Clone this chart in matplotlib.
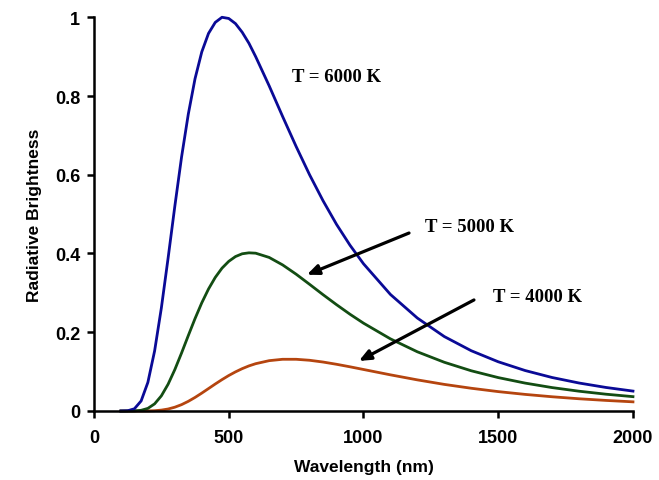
import matplotlib
matplotlib.use("Agg")
import matplotlib.pyplot as plt

# wavelength grid (nm) shared by all three curves
wavelength = [100, 125, 150, 175, 200, 225, 250, 275, 300, 325, 350, 375, 400,
              425, 450, 475, 500, 525, 550, 575, 600, 650, 700, 750, 800, 850,
              900, 950, 1000, 1100, 1200, 1300, 1400, 1500, 1600, 1700, 1800,
              1900, 2000]

# radiative brightness (6000 K peak = 1)
t6000 = [0.0, 0.0006, 0.0056, 0.0255, 0.0726, 0.1525, 0.2615, 0.388, 0.520,
         0.645, 0.754, 0.844, 0.912, 0.959, 0.987, 1.000, 0.997, 0.984, 0.962,
         0.934, 0.900, 0.826, 0.748, 0.672, 0.600, 0.534, 0.474, 0.421, 0.374,
         0.296, 0.236, 0.189, 0.153, 0.125, 0.1027, 0.085, 0.071, 0.0597,
         0.0505]
t5000 = [0.0, 0.0, 0.0002, 0.0017, 0.0066, 0.0181, 0.0384, 0.0679, 0.1051,
         0.1473, 0.1915, 0.2347, 0.2747, 0.3098, 0.3392, 0.3627, 0.380, 0.3922,
         0.3993, 0.4017, 0.4008, 0.390, 0.371, 0.3475, 0.3217, 0.2954, 0.270,
         0.2457, 0.2231, 0.1832, 0.1503, 0.1237, 0.1021, 0.0848, 0.0708,
         0.0594, 0.0502, 0.0426, 0.0364]
t4000 = [0.0, 0.0, 0.0, 0.0, 0.0002, 0.0007, 0.0022, 0.005, 0.0096, 0.0161,
         0.0245, 0.0344, 0.0454, 0.0569, 0.0685, 0.0796, 0.090, 0.0993, 0.1075,
         0.1145, 0.1201, 0.1278, 0.1313, 0.1313, 0.1288, 0.1243, 0.1186,
         0.1122, 0.1054, 0.0918, 0.079, 0.0675, 0.0577, 0.0492, 0.0421, 0.0361,
         0.031, 0.0268, 0.0232]

x_ticks = [0, 500, 1000, 1500, 2000]
y_ticks = [0, 0.2, 0.4, 0.6, 0.8, 1]
y_tick_labels = ["0", "0.2", "0.4", "0.6", "0.8", "1"]

fig = plt.figure(figsize=(6.59, 4.81), dpi=100)
ax = fig.add_axes([0.1426, 0.1435, 0.8179, 0.8185])

# drawn orange first so blue ends up on top along the zero line
ax.plot(wavelength, t4000, color="#b5450f", lw=2.0, clip_on=False)
ax.plot(wavelength, t5000, color="#134d13", lw=2.0, clip_on=False)
ax.plot(wavelength, t6000, color="#0a0a96", lw=2.0, clip_on=False)

ax.set_xlim(0, 2000)
ax.set_ylim(0, 1)
ax.set_xticks(x_ticks)
ax.set_yticks(y_ticks)
ax.set_yticklabels(y_tick_labels)

for side in ["top", "right"]:
    ax.spines[side].set_visible(False)
for side in ["left", "bottom"]:
    ax.spines[side].set_linewidth(1.8)
    ax.spines[side].set_color("black")

ax.tick_params(axis="both", direction="out", width=1.8, length=5,
               labelsize=13)
ax.tick_params(axis="x", pad=8)
ax.tick_params(axis="y", pad=5)
for lab in ax.get_xticklabels() + ax.get_yticklabels():
    lab.set_fontfamily("Liberation Sans")
    lab.set_fontweight("bold")

ax.set_xlabel("Wavelength (nm)", fontfamily="Liberation Sans",
              fontweight="bold", fontsize=12.5, labelpad=9)
ax.set_ylabel("Radiative Brightness", fontfamily="Liberation Sans",
              fontweight="bold", fontsize=12.5, labelpad=9)

lbl = dict(fontfamily="Liberation Serif", fontweight="bold", fontsize=13.5)
ax.text(735, 0.849, "T = 6000 K", va="center", ha="left", **lbl)

arrow = dict(arrowstyle="-|>,head_length=0.7,head_width=0.3", color="black",
             lw=2.3, shrinkA=0, shrinkB=0)
ax.annotate("", xy=(790, 0.346), xytext=(1169, 0.452), arrowprops=arrow)
ax.text(1228, 0.468, "T = 5000 K", va="center", ha="left", **lbl)

ax.annotate("", xy=(983, 0.127), xytext=(1410, 0.282), arrowprops=arrow)
ax.text(1481, 0.290, "T = 4000 K", va="center", ha="left", **lbl)

fig.savefig("out.png", dpi=100)
